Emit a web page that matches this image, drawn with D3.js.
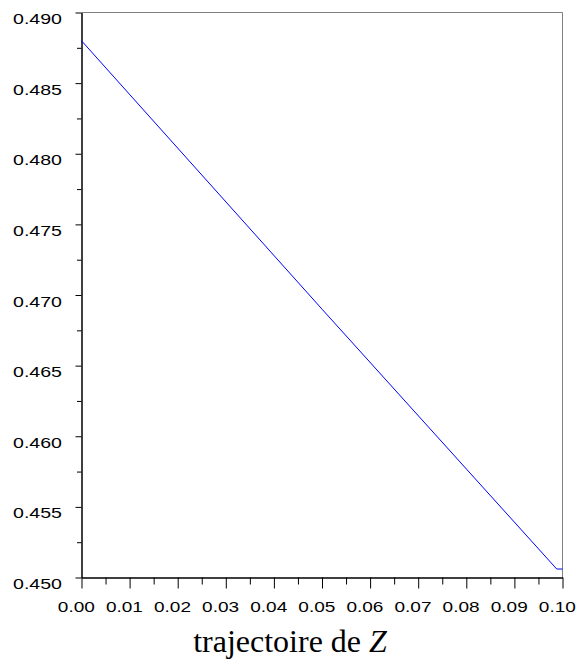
<!DOCTYPE html>
<html>
<head>
<meta charset="utf-8">
<script src="https://cdn.jsdelivr.net/npm/d3@7"></script>
<style>
  html, body { margin: 0; padding: 0; background: #fff; }
  svg { display: block; }
</style>
</head>
<body>
<svg id="chart" width="584" height="661"></svg>
<script>
// Data
const xValues = [0, 0.05, 0.0988, 0.1];
const yValues = [0.4880, 0.4690, 0.4506, 0.4506];
const xTicks = [0, 0.01, 0.02, 0.03, 0.04, 0.05, 0.06, 0.07, 0.08, 0.09, 0.10];
const xMinorTicks = [0.005, 0.015, 0.025, 0.035, 0.045, 0.055, 0.065, 0.075, 0.085, 0.095];
const yTicks = [0.450, 0.455, 0.460, 0.465, 0.470, 0.475, 0.480, 0.485, 0.490];
const yMinorTicks = [0.4525, 0.4575, 0.4625, 0.4675, 0.4725, 0.4775, 0.4825, 0.4875];
const titleText = "trajectoire de ";
const titleVar = "Z";

const svg = d3.select("#chart");
const x = d3.scaleLinear().domain([0, 0.1]).range([81.5, 562.5]);
const y = d3.scaleLinear().domain([0.45, 0.49]).range([577.5, 12.5]);

// frame: top and right in gray
svg.append("line").attr("x1", x(0)).attr("x2", x(0.1)).attr("y1", y(0.49)).attr("y2", y(0.49))
  .attr("stroke", "#808080").attr("stroke-width", 1);
svg.append("line").attr("x1", x(0.1)).attr("x2", x(0.1)).attr("y1", y(0.49)).attr("y2", y(0.45))
  .attr("stroke", "#808080").attr("stroke-width", 1);

// minor ticks
const gxm = svg.append("g").attr("transform", `translate(0,${y(0.45)})`)
  .call(d3.axisBottom(x).tickValues(xMinorTicks).tickSize(7).tickSizeOuter(0).tickFormat(""));
const gym = svg.append("g").attr("transform", `translate(${x(0)},0)`)
  .call(d3.axisLeft(y).tickValues(yMinorTicks).tickSize(4.5).tickSizeOuter(0).tickFormat(""));

// major axes
const gx = svg.append("g").attr("transform", `translate(0,${y(0.45)})`)
  .call(d3.axisBottom(x).tickValues(xTicks).tickSize(11).tickSizeOuter(0).tickFormat(d3.format(".2f")));
const gy = svg.append("g").attr("transform", `translate(${x(0)},0)`)
  .call(d3.axisLeft(y).tickValues(yTicks).tickSize(6).tickSizeOuter(0).tickFormat(d3.format(".3f")));

[gxm, gym, gx, gy].forEach(g => {
  g.selectAll("path.domain").attr("stroke", "#000").attr("stroke-width", 1);
  g.selectAll(".tick line").attr("stroke", "#000").attr("stroke-width", 1);
});

gx.selectAll(".tick text")
  .attr("font-family", "'Liberation Sans', Arial, sans-serif")
  .attr("font-size", 15)
  .attr("fill", "#000")
  .attr("y", 34).attr("dy", 0).attr("x", -5.7)
  .attr("textLength", 37).attr("lengthAdjust", "spacingAndGlyphs");

gy.selectAll(".tick text")
  .attr("font-family", "'Liberation Sans', Arial, sans-serif")
  .attr("font-size", 15)
  .attr("fill", "#000")
  .attr("x", -19.5).attr("dy", 0).attr("y", 11)
  .attr("textLength", 49).attr("lengthAdjust", "spacingAndGlyphs");

// series line
const pts = xValues.map((d, i) => [d, yValues[i]]);
svg.append("path")
  .datum(pts)
  .attr("fill", "none")
  .attr("stroke", "#0000ff")
  .attr("stroke-width", 1)
  .attr("d", d3.line().x(d => x(d[0])).y(d => y(d[1])));

// title
const t = svg.append("text")
  .attr("x", 290).attr("y", 651.5)
  .attr("text-anchor", "middle")
  .attr("font-family", "'Liberation Serif', 'Times New Roman', serif")
  .attr("font-size", 32)
  .attr("fill", "#000");
t.append("tspan").text(titleText);
t.append("tspan").attr("font-style", "italic").text(titleVar);
</script>
</body>
</html>
